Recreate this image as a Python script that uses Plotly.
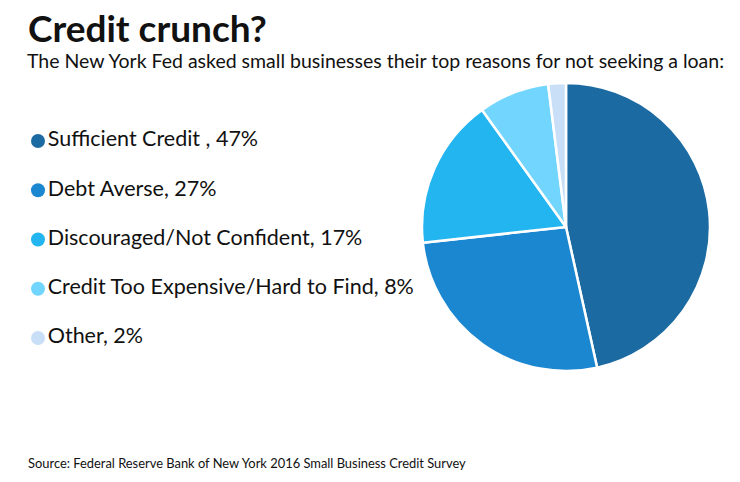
import plotly.graph_objects as go

categories = ["Sufficient Credit ", "Debt Averse", "Discouraged/Not Confident",
              "Credit Too Expensive/Hard to Find", "Other"]
values = [47, 27, 17, 8, 2]
colors = ["#1b6aa1", "#1b87d0", "#22b5f0", "#72d5fe", "#c8dff7"]

title = "Credit crunch?"
subtitle = "The New York Fed asked small businesses their top reasons for not seeking a loan:"
source = "Source: Federal Reserve Bank of New York 2016 Small Business Credit Survey"

W, H = 740, 482
FONT = "Lato"

legend_text = [f"{c}, {v}%" for c, v in zip(categories, values)]
idx = list(range(len(categories)))

fig = go.Figure()
fig.add_trace(go.Pie(
    labels=categories, values=values, sort=False, direction="clockwise", rotation=0,
    marker=dict(colors=colors, line=dict(color="white", width=2.5)),
    textinfo="none", hoverinfo="label+percent", showlegend=False,
    domain=dict(x=[(566 - 144) / W, (566 + 144) / W], y=[1 - 371 / H, 1 - 83 / H]),
))

fig.add_trace(go.Scatter(
    x=[38] * len(idx), y=idx, mode="markers+text",
    marker=dict(color=colors, size=14),
    text=legend_text, textposition="middle right",
    textfont=dict(family=FONT, size=21.5, color="#111111"),
    showlegend=False, hoverinfo="skip",
))

step = 49.25
top = -141 / step
fig.update_layout(
    width=W, height=H, margin=dict(l=0, r=0, t=0, b=0),
    paper_bgcolor="white", plot_bgcolor="white",
    xaxis=dict(range=[0, W], domain=[0, 1], visible=False, fixedrange=True),
    yaxis=dict(range=[top + H / step, top], domain=[0, 1], visible=False, fixedrange=True),
    annotations=[
        dict(text=f"<b>{title}</b>", x=26 / W, y=1 - 27 / H, xref="paper", yref="paper",
             xanchor="left", yanchor="middle", showarrow=False,
             font=dict(family=FONT, size=37, color="#111111")),
        dict(text=subtitle, x=25 / W, y=1 - 60 / H, xref="paper", yref="paper",
             xanchor="left", yanchor="middle", showarrow=False,
             font=dict(family=FONT, size=19.5, color="#111111")),
        dict(text=source, x=26 / W, y=1 - 463 / H, xref="paper", yref="paper",
             xanchor="left", yanchor="middle", showarrow=False,
             font=dict(family=FONT, size=12.9, color="#111111")),
    ],
)

fig.write_html("out.html", config={"displayModeBar": False},
               post_script="document.body.style.margin='0';")
